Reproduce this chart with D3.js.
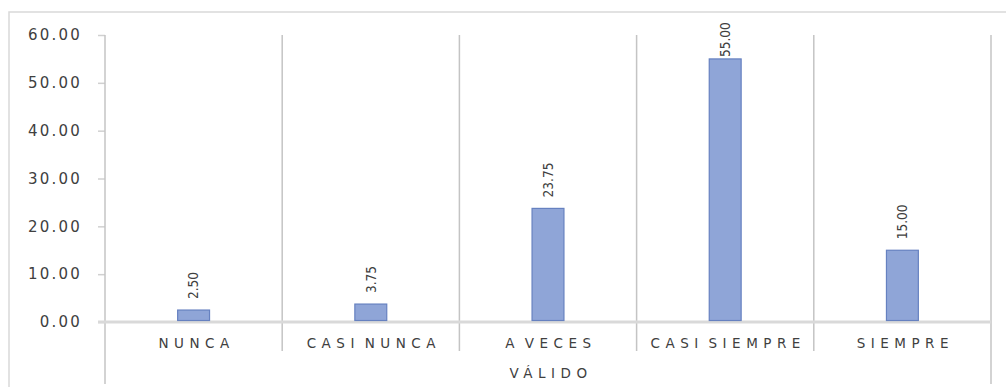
<!DOCTYPE html>
<html>
<head>
<meta charset="utf-8">
<script src="https://cdn.jsdelivr.net/npm/d3@7"></script>
<style>
  body { margin: 0; background: #fff; }
  svg { display: block; }
</style>
</head>
<body>
<svg id="chart"></svg>
<script>
// categories and values
const categories = ["NUNCA", "CASI NUNCA", "A VECES", "CASI SIEMPRE", "SIEMPRE"];
const values = [2.50, 3.75, 23.75, 55.00, 15.00];
const yTicks = [0, 10, 20, 30, 40, 50, 60];
const groupLabel = "VÁLIDO";

const width = 1006;
const height = 387;

const svg = d3.select("#chart")
    .attr("width", width)
    .attr("height", height);

// outer border of the chart area (runs off right and bottom)
svg.append("rect")
    .attr("x", 9)
    .attr("y", 12)
    .attr("width", 1100)
    .attr("height", 500)
    .attr("fill", "none")
    .attr("stroke", "#d9d9d9")
    .attr("stroke-width", 1.5);

const plotLeft = 105, plotRight = 991, plotTop = 35, plotBottom = 322;

const x = d3.scaleBand()
    .domain(categories)
    .range([plotLeft, plotRight])
    .padding(0);

const y = d3.scaleLinear()
    .domain([0, 60])
    .range([plotBottom, plotTop]);

// y axis ticks and labels
const yAxis = svg.append("g")
    .attr("transform", "translate(" + plotLeft + ",0)")
    .call(d3.axisLeft(y).tickValues(yTicks).tickSize(7).tickPadding(16)
        .tickFormat(d3.format(".2f")));

yAxis.select(".domain").remove();
yAxis.selectAll(".tick line")
    .attr("stroke", "#d0d0d0")
    .attr("stroke-width", 1.5);
yAxis.selectAll(".tick text")
    .attr("fill", "#404040")
    .style("font-family", "DejaVu Sans, sans-serif")
    .style("font-size", "15px")
    .style("letter-spacing", "2.2px");

// category dividers (interior ones shorter, edges go to the group level)
const edges = categories.map(c => x(c)).concat([plotRight]);
svg.append("g").selectAll("line")
    .data(edges)
    .enter()
    .append("line")
    .attr("x1", d => d)
    .attr("x2", d => d)
    .attr("y1", plotTop)
    .attr("y2", (d, i) => (i === 0 || i === edges.length - 1) ? 384 : 351)
    .attr("stroke", "#c4c4c4")
    .attr("stroke-width", 1.5);

// baseline
svg.append("line")
    .attr("x1", plotLeft - 7)
    .attr("x2", plotRight)
    .attr("y1", y(0))
    .attr("y2", y(0))
    .attr("stroke", "#d9d9d9")
    .attr("stroke-width", 3);

// bars
const barW = x.bandwidth() * 0.18;
svg.append("g").selectAll("rect")
    .data(values)
    .enter()
    .append("rect")
    .attr("x", (d, i) => x(categories[i]) + x.bandwidth() / 2 - barW / 2)
    .attr("y", d => y(d))
    .attr("width", barW)
    .attr("height", d => y(0) - y(d) - 1.5)
    .attr("fill", "#8fa5d7")
    .attr("stroke", "#6681c0")
    .attr("stroke-width", 1.2);

// value labels, rotated; pushed down for the tallest bar so it stays inside
svg.append("g").selectAll("text")
    .data(values)
    .enter()
    .append("text")
    .attr("transform", (d, i) => {
        let cx = x(categories[i]) + x.bandwidth() / 2;
        let cy = Math.max(y(d) - 11, 57);
        return "translate(" + cx + "," + cy + ") rotate(-90)";
    })
    .attr("dy", "0.35em")
    .attr("fill", "#404040")
    .style("font-family", "DejaVu Sans Condensed, DejaVu Sans, sans-serif")
    .style("font-stretch", "condensed")
    .style("font-size", "13.5px")
    .text(d => d3.format(".2f")(d));

// category labels
svg.append("g").selectAll("text")
    .data(categories)
    .enter()
    .append("text")
    .attr("x", d => x(d) + x.bandwidth() / 2 + 3)
    .attr("y", 348)
    .attr("text-anchor", "middle")
    .attr("fill", "#404040")
    .style("font-family", "DejaVu Sans, sans-serif")
    .style("font-size", "13.5px")
    .style("letter-spacing", "5.5px")
    .style("word-spacing", "-5px")
    .text(d => d);

// group label
svg.append("text")
    .attr("x", (plotLeft + plotRight) / 2 + 3)
    .attr("y", 378)
    .attr("text-anchor", "middle")
    .attr("fill", "#404040")
    .style("font-family", "DejaVu Sans, sans-serif")
    .style("font-size", "13.5px")
    .style("letter-spacing", "5.5px")
    .text(groupLabel);
</script>
</body>
</html>
